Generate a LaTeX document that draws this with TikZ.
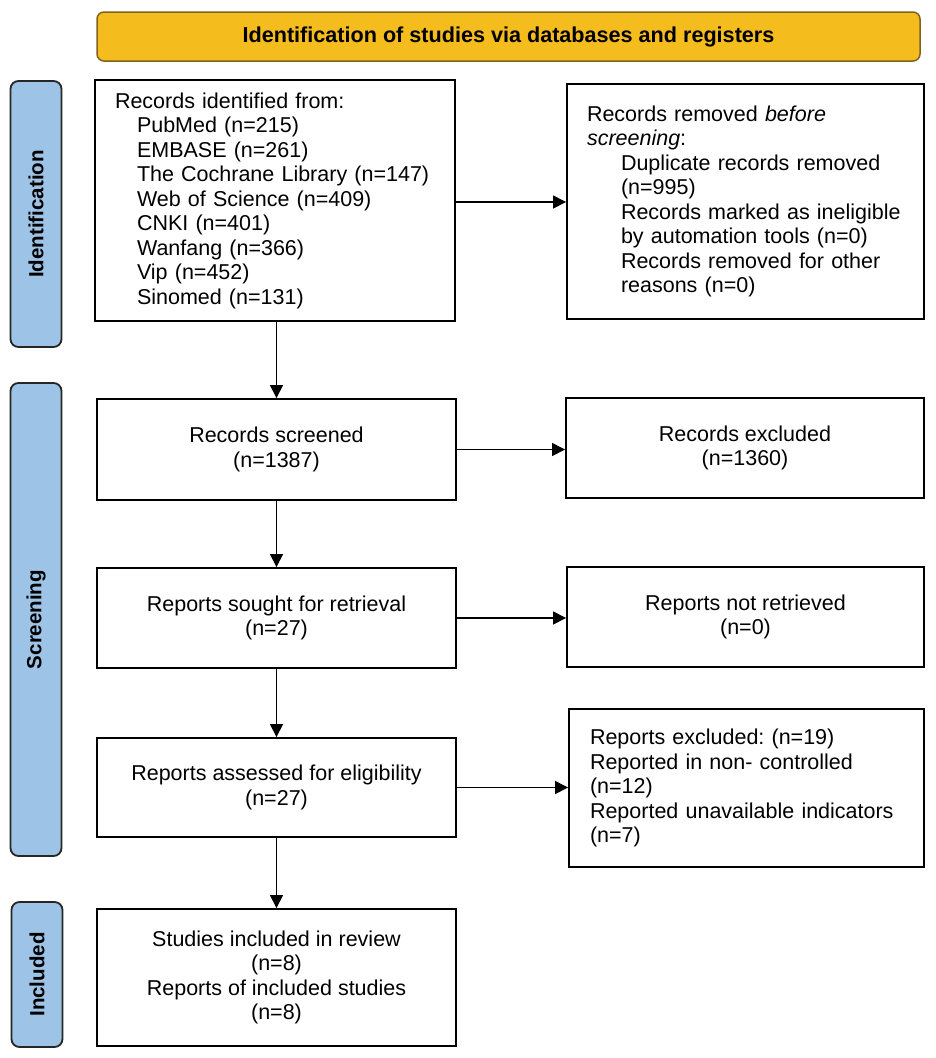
\documentclass[tikz,border=0pt]{standalone}
\usepackage{fontspec}
\setmainfont{Liberation Sans}
\usetikzlibrary{arrows.meta}
\definecolor{hdrfill}{HTML}{F5BC1E}
\definecolor{hdrdraw}{HTML}{7F6220}
\definecolor{barfill}{HTML}{9DC3E6}
\definecolor{bardraw}{HTML}{262626}
\frenchspacing
\begin{document}
\begin{tikzpicture}[x=1pt,y=-1pt,
  box/.style={draw=black, line width=1.9pt, inner sep=0pt, align=center,
    font=\fontsize{21.5}{24.5}\selectfont},
  leftbox/.style={box, align=left},
  header/.style={draw=hdrdraw, fill=hdrfill, line width=1.5pt, rounded corners=7pt,
    minimum width=823pt, minimum height=49pt, inner sep=0pt,
    font=\bfseries\fontsize{21.6}{24}\selectfont},
  bar/.style={draw=bardraw, fill=barfill, line width=1.8pt, rounded corners=8pt,
    minimum height=51pt, inner sep=0pt, rotate=90,
    font=\bfseries\fontsize{20.5}{24}\selectfont},
  arr/.style={line width=1.4pt, -{Triangle[length=13pt,width=13pt]}}]
\useasboundingbox (0,0) rectangle (935,1058);

\node[header] (hdr) at (508.5,36.5) {Identification of studies via databases and registers};

\node[bar, minimum width=266pt] (barid) at (36,214) {Identification};
\node[bar, minimum width=473pt] (barsc) at (36,619.5) {Screening};
\node[bar, minimum width=145pt] (barin) at (37,974.5) {Included};

\node[leftbox, text width=320pt, inner xsep=20pt, minimum height=241pt] (b1) at (275,200.5)
  {Records identified from:\\
   \hspace*{22pt}PubMed (n=215)\\
   \hspace*{22pt}EMBASE (n=261)\\
   \hspace*{22pt}The Cochrane Library (n=147)\\
   \hspace*{22pt}Web of Science (n=409)\\
   \hspace*{22pt}CNKI (n=401)\\
   \hspace*{22pt}Wanfang (n=366)\\
   \hspace*{22pt}Vip (n=452)\\
   \hspace*{22pt}Sinomed (n=131)};

\node[leftbox, text width=317pt, inner xsep=20pt, minimum height=235pt] (b2) at (745.5,201.5)
  {Records removed \textit{before}\\
   \textit{screening}:\\
   \hspace*{34pt}Duplicate records removed\\
   \hspace*{34pt}(n=995)\\
   \hspace*{34pt}Records marked as ineligible\\
   \hspace*{34pt}by automation tools (n=0)\\
   \hspace*{34pt}Records removed for other\\
   \hspace*{34pt}reasons (n=0)};

\node[box, minimum width=359pt, minimum height=101pt] (b3) at (276.5,449.5)
  {Records screened\\(n=1387)};
\node[box, minimum width=358pt, minimum height=100pt] (b4) at (745,448)
  {Records excluded\\(n=1360)};

\node[box, minimum width=359pt, minimum height=100pt] (b5) at (276.5,618)
  {Reports sought for retrieval\\(n=27)};
\node[box, minimum width=357pt, minimum height=100pt] (b6) at (745.5,617)
  {Reports not retrieved\\(n=0)};

\node[box, minimum width=359pt, minimum height=99pt] (b7) at (276.5,787.5)
  {Reports assessed for eligibility\\(n=27)};
\node[leftbox, text width=313pt, inner xsep=21pt, minimum height=158pt] (b8) at (746.5,788)
  {Reports excluded: (n=19)\\
   Reported in non- controlled\\
   (n=12)\\
   Reported unavailable indicators\\
   (n=7)};

\node[box, minimum width=359pt, minimum height=137pt] (b9) at (276.5,977.5)
  {Studies included in review\\(n=8)\\Reports of included studies\\(n=8)};

\draw[arr] (b3.north |- b1.south) -- (b3.north);
\draw[arr] (b3.south) -- (b5.north);
\draw[arr] (b5.south) -- (b7.north);
\draw[arr] (b7.south) -- (b9.north);

\draw[arr] (b1.east |- 0,202) -- (b2.west |- 0,202);
\draw[arr] (b3.east) -- (b3.east -| b4.west);
\draw[arr] (b5.east) -- (b5.east -| b6.west);
\draw[arr] (b7.east) -- (b7.east -| b8.west);
\end{tikzpicture}
\end{document}
